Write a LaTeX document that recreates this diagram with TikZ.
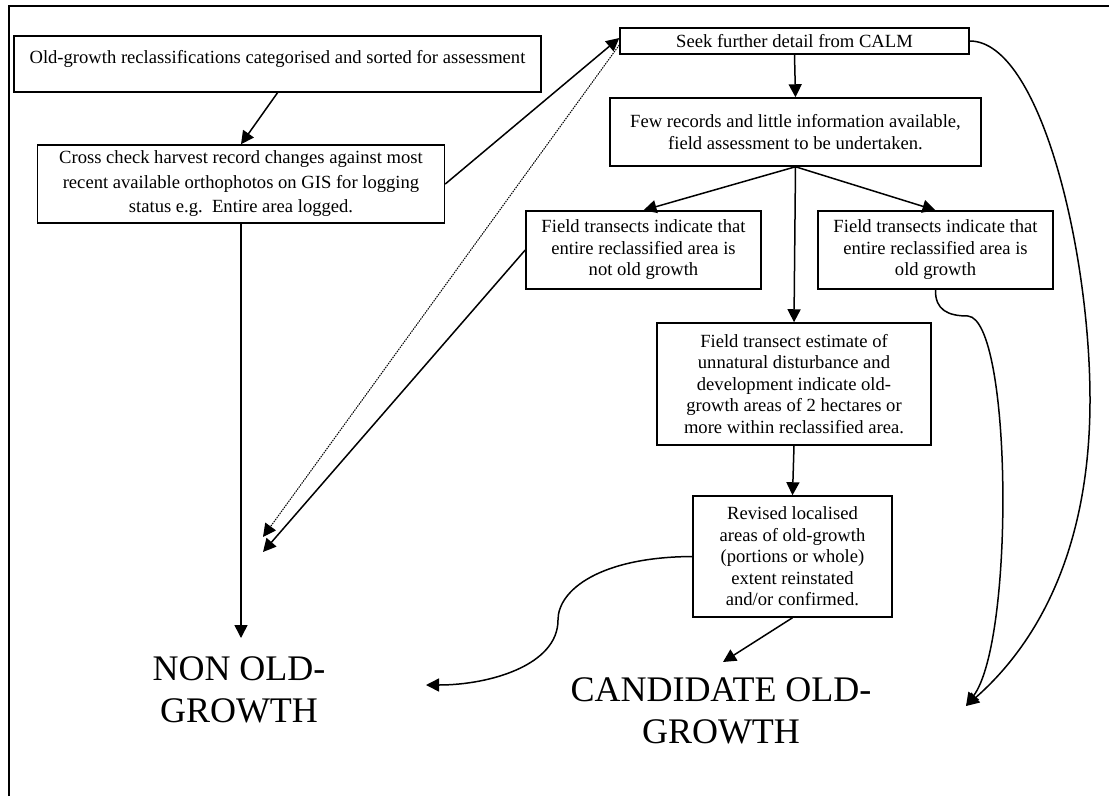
\documentclass[tikz,border=0pt]{standalone}
\usepackage{fontspec}
\setmainfont{Liberation Serif}
\usetikzlibrary{arrows.meta,calc}

\tikzset{
    box/.style={rectangle, draw, line width=1.5pt, align=center, inner sep=2pt, font=\fontsize{18.6}{21.5}\selectfont},
    flow/.style={line width=1.5pt, -{Triangle[length=13pt,width=13pt]}},
    bigtext/.style={align=center, inner sep=0pt, font=\fontsize{36}{42}\selectfont},
}

\begin{document}
\begin{tikzpicture}[x=1pt, y=-1pt]
            \useasboundingbox (0,0) rectangle (1109,796);
            \draw[line width=1.5pt] (9,796) -- (9,6) -- (1109,6);

            \node[box, minimum width=527pt, minimum height=56pt, text height=13pt, text depth=15pt] (sort) at (277.5,64) {Old-growth reclassifications categorised and sorted for assessment};
            \node[box, minimum width=407pt, minimum height=78pt, font=\fontsize{18.6}{24.5}\selectfont] (cross) at (241,184) {Cross check harvest record changes against most\\recent available orthophotos on GIS for logging\\status e.g.\ \ Entire area logged.};

            \node[box, minimum width=349pt, minimum height=26pt] (calm) at (794.5,41) {Seek further detail from CALM};
            \node[box, minimum width=371pt, minimum height=68pt] (few) at (795.5,132) {Few records and little information available,\\field assessment to be undertaken.};

            \node[box, minimum width=235pt, minimum height=78pt] (notog) at (643.5,250) {Field transects indicate that\\entire reclassified area is\\not old growth};
            \node[box, minimum width=235pt, minimum height=78pt] (isog) at (935.5,250) {Field transects indicate that\\entire reclassified area is\\old growth};

            \node[box, minimum width=274pt, minimum height=122pt] (est) at (794,384) {Field transect estimate of\\unnatural disturbance and\\development indicate old-\\growth areas of 2 hectares or\\more within reclassified area.};
            \node[box, minimum width=199pt, minimum height=121pt] (revised) at (792.5,556.5) {Revised localised\\areas of old-growth\\(portions or whole)\\extent reinstated\\and/or confirmed.};

            \node[bigtext] (nonog) at (239,690) {NON OLD-\\GROWTH};
            \node[bigtext] (cand) at (721,711) {CANDIDATE OLD-\\GROWTH};

            % free ends of the arrows
            \coordinate (nonTop) at (241,638);
            \coordinate (dotTip) at (263,537);
            \coordinate (notTip) at (263,552);
            \coordinate (curveTip) at (426,685);
            \coordinate (candTip) at (723,662);
            \coordinate (ogTip) at (966,706);

            \draw[flow] (sort.south) -- (cross.north);
            \draw[flow] (cross.east) -- ([yshift=3pt]calm.west);
            \draw[flow, densely dotted, line width=1pt] ([yshift=-4pt]calm.west) -- (dotTip);
            \draw[flow] (cross.south) -- (nonTop);

            \draw[flow] (calm.south) -- (few.north);
            \draw[flow] (few.south) -- (notog.north);
            \draw[flow] (few.south) -- (isog.north);
            \draw[flow] (few.south) -- (est.north);
            \draw[flow] (est.south) -- (revised.north);

            \draw[flow] (notog.west) -- (notTip);
            \draw[flow] (revised.south) -- (candTip);
            \draw[flow] (revised.west) .. controls (600,557) and (558,590) .. (558,620) .. controls (558,665) and (490,685) .. (curveTip);
            \draw[flow] (isog.south) .. controls (935,310) and (948,316) .. (968,316) .. controls (1012,320) and (1015,640) .. (ogTip);
            \draw[flow] (calm.east) .. controls (1040,41) and (1090,250) .. (1090,400) .. controls (1090,560) and (1030,650) .. (ogTip);

\end{tikzpicture}
\end{document}
